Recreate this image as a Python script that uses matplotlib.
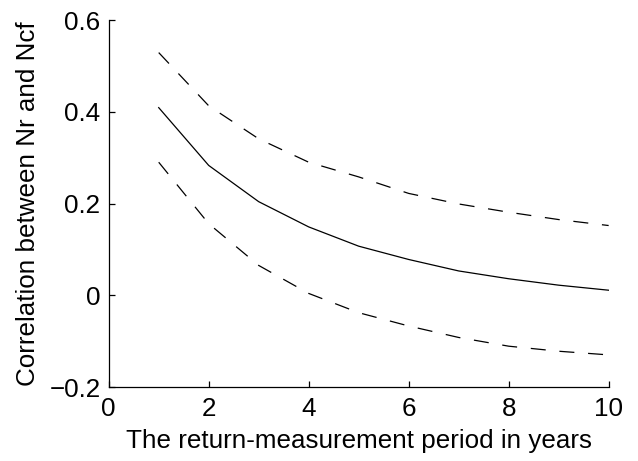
import matplotlib
matplotlib.use("Agg")
import matplotlib.pyplot as plt

years = [1, 2, 3, 4, 5, 6, 7, 8, 9, 10]
corr_mid = [0.409, 0.283, 0.204, 0.149, 0.107, 0.078, 0.053, 0.036, 0.022, 0.011]
corr_upper = [0.529, 0.413, 0.341, 0.290, 0.258, 0.222, 0.199, 0.181, 0.165, 0.152]
corr_lower = [0.290, 0.156, 0.065, 0.004, -0.038, -0.067, -0.092, -0.111, -0.122, -0.130]

xticks = [0, 2, 4, 6, 8, 10]
yticks = [-0.2, 0, 0.2, 0.4, 0.6]
yticklabels = ["\u22120.2", "0", "0.2", "0.4", "0.6"]

plt.rcParams['font.family'] = ['Liberation Sans', 'DejaVu Sans']

fig = plt.figure(figsize=(6.38, 4.61), dpi=100)
ax = fig.add_axes([0.1704, 0.1605, 0.954 - 0.1704, 0.9566 - 0.1605])

ax.plot(years, corr_mid, color='black', lw=0.9)
ax.plot(years, corr_upper, color='black', lw=0.9, dashes=(12, 11))
ax.plot(years, corr_lower, color='black', lw=0.9, dashes=(12, 11))

ax.set_xlim(0, 10)
ax.set_ylim(-0.2, 0.6)
ax.set_xticks(xticks)
ax.set_xticklabels([str(t) for t in xticks])
ax.set_yticks(yticks)
ax.set_yticklabels(yticklabels)

for s in ['top', 'right']:
    ax.spines[s].set_visible(False)
for s in ['left', 'bottom']:
    ax.spines[s].set_linewidth(0.9)

ax.tick_params(direction='in', length=4, width=0.9, labelsize=18.7)
ax.tick_params(axis='x', pad=7)
ax.tick_params(axis='y', pad=6)
ax.set_xlabel("The return-measurement period in years", fontsize=18.7, labelpad=6)
ax.set_ylabel("Correlation between Nr and Ncf", fontsize=18.7, labelpad=7)

fig.savefig("out.png", dpi=100)
